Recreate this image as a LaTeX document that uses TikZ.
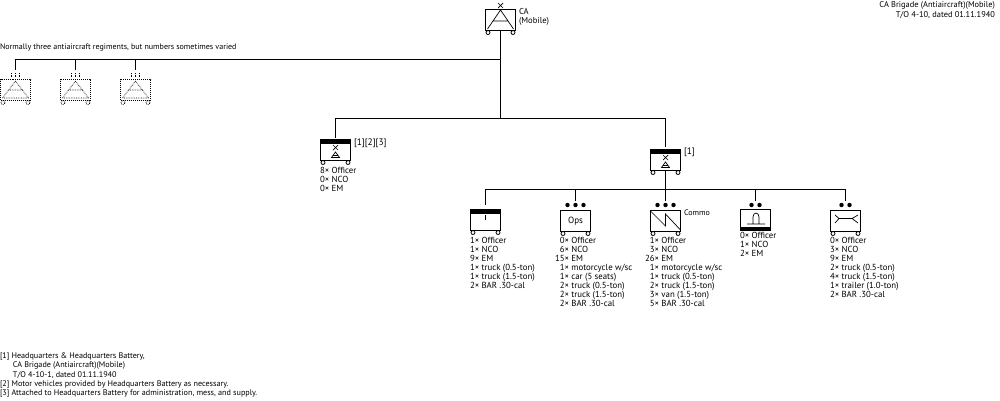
\documentclass[tikz,border=0pt]{standalone}
\usepackage{fontspec}
\setmainfont{PT Sans}
\usetikzlibrary{positioning}

\tikzset{
  unit/.style={draw, line width=1pt, minimum width=30pt, minimum height=21pt, inner sep=0pt, outer sep=0pt},
  ghost/.style={unit, densely dotted},
  txt/.style={inner sep=0pt, outer sep=0pt, anchor=north west, align=left, font=\fontsize{8}{9.1}\selectfont},
  listtxt/.style={txt, font=\fontsize{8.8}{9.1}\selectfont},
  conn/.style={line width=1pt},
  sym/.style={line width=0.7pt}
}
% wheels under a box
\newcommand{\wheels}[2][]{%
  \draw[line width=0.8pt,#1] ([xshift=2.5pt,yshift=-2pt]#2.south west) circle (2pt);
  \draw[line width=0.8pt,#1] ([xshift=-2.5pt,yshift=-2pt]#2.south east) circle (2pt);}
% small brigade mark with antiaircraft sign
\newcommand{\smallaa}[2]{%
  \draw[sym] (#1-2.5,#2-7) -- (#1+2.5,#2-2) (#1+2.5,#2-7) -- (#1-2.5,#2-2);
  \draw[sym] (#1-4,#2+5.5) -- (#1,#2) -- (#1+4,#2+5.5) -- cycle (#1-2.5,#2+3.5) -- (#1+2.5,#2+3.5);}
\newcommand{\dotmark}[2]{%
  \fill (#1,#2) circle (2.2pt);}

\begin{document}
\begin{tikzpicture}[x=1pt,y=-1pt]
\useasboundingbox (0,0) rectangle (1000,400);
% nodes
\node[unit] (ca) at (500.5,20) {};
\node[unit] (bdehq) at (335.5,150) {};
\node[unit] (bty) at (665.5,160) {};
\node[unit] (hqsec) at (485.5,220) {};
\node[unit] (ops) at (575.5,221) {\fontsize{9}{9}\selectfont Ops};
\node[unit] (commo) at (665.5,221) {};
\node[unit] (sptl) at (755.5,220) {};
\node[unit] (maint) at (845.5,221) {};

\coordinate (bus1) at (500.5,59.5);
\coordinate (bus2) at (500.5,118.5);
\coordinate (bus3) at (665.5,189.5);
\coordinate (bdehqm) at (335.5,138);
\coordinate (btym) at (665.5,147);
\coordinate (hqsecm) at (485.5,205);
\coordinate (opsm) at (575.5,201);
\coordinate (commom) at (665.5,201);
\coordinate (sptlm) at (755.5,201);
\coordinate (maintm) at (845.5,201);

% regiments
\foreach \i/\x in {1/15.5,2/75.5,3/135.5} {
  \node[ghost] (rgt\i) at (\x,90) {};
  \wheels[densely dotted]{rgt\i}
  \coordinate (rgt\i m) at (\x,69.5);
  \draw[conn] (bus1) -| (rgt\i m);
  \draw[sym, densely dotted] (\x-4,73) -- (\x-4,78) (\x,73) -- (\x,78) (\x+4,73) -- (\x+4,78);
  \draw[sym, densely dotted] (\x,81) -- (\x-13,98) (\x,81) -- (\x+13,98) (\x-13,98) -- (\x+13,98) (\x-7,90) -- (\x+7,90);
}

% brigade
\wheels{ca}
\draw[sym] (498,3) -- (503,8) (503,3) -- (498,8);
\draw[sym] (500.5,10) -- (487.5,29) (500.5,10) -- (513.5,29) (493.5,21) -- (507.5,21);
\draw[conn] (ca.south) -- (bus2);
\draw[conn] (bus2) -| (bdehqm);
\draw[conn] (bus2) -| (btym);

% headquarters boxes
\foreach \n in {bdehq,bty,hqsec} {
  \fill (\n.north west) rectangle ++(30,4);
}
\foreach \n in {bdehq,bty,hqsec,ops,commo,maint} {
  \wheels{\n}
}
\smallaa{335.5}{152}
\smallaa{665.5}{162}
\draw[conn] (bty.south) -- (commom);
\draw[conn] (bus3) -| (hqsecm);
\draw[conn] (bus3) -| (opsm);
\draw[conn] (bus3) -| (sptlm);
\draw[conn] (bus3) -| (maintm);

% signs in the boxes
\draw[sym] (485.5,215) -- (485.5,220);
\draw[sym] (650.5,211) -- (665.5,226) -- (665.5,214) -- (680.5,230);
\fill (sptl.south west) rectangle ++(30,-4);
\draw[sym] (747,224) -- (765,224) (753,224) -- (753,217) arc[start angle=180,end angle=0,x radius=3pt,y radius=4pt] -- (759,224);
\draw[sym] (835,215) -- (839,218.5) -- (835,223) (839,218.5) -- (852,218.5) (858,215) -- (852,218.5) -- (858,223);
\foreach \x in {567.5,575.5,583.5,657.5,665.5,673.5,751.5,759.5,841.5,849.5} {
  \dotmark{\x}{205}
}

% texts
\node[txt, font=\fontsize{8.6}{9.6}\selectfont] (catxt) at (519,8) {CA\\(Mobile)};
\node[txt, font=\fontsize{9.4}{9.4}\selectfont] (bdetxt) at (354,139) {[1][2][3]};
\node[txt, font=\fontsize{9.4}{9.4}\selectfont] (btytxt) at (684,148) {[1]};
\node[txt] (commotxt) at (684,210) {Commo};
\node[txt] (normal) at (0,44) {Normally three antiaircraft regiments, but numbers sometimes varied};
\node[txt, anchor=north east, align=right, font=\fontsize{8.4}{9.1}\selectfont] (title) at (995,2) {CA Brigade (Antiaircraft)(Mobile)\\T/O 4-10, dated 01.11.1940\hspace{2pt}};
\node[listtxt] (bdelist) at (320,167) {8× Officer\\0× NCO\\0× EM};
\node[listtxt] (hqlist) at (470,237) {1× Officer\\1× NCO\\9× EM\\1× truck (0.5-ton)\\1× truck (1.5-ton)\\2× BAR .30-cal};
\node[listtxt] (opslist) at (555,237) {\hphantom{1}0× Officer\\\hphantom{1}6× NCO\\15× EM\\\hphantom{1}1× motorcycle w/sc\\\hphantom{1}1× car (5 seats)\\\hphantom{1}2× truck (0.5-ton)\\\hphantom{1}2× truck (1.5-ton)\\\hphantom{1}2× BAR .30-cal};
\node[listtxt] (commolist) at (645,237) {\hphantom{1}1× Officer\\\hphantom{1}3× NCO\\26× EM\\\hphantom{1}1× motorcycle w/sc\\\hphantom{1}1× truck (0.5-ton)\\\hphantom{1}2× truck (1.5-ton)\\\hphantom{1}3× van (1.5-ton)\\\hphantom{1}5× BAR .30-cal};
\node[listtxt] (sptllist) at (740,232) {0× Officer\\1× NCO\\2× EM};
\node[listtxt] (maintlist) at (830,237) {0× Officer\\3× NCO\\9× EM\\2× truck (0.5-ton)\\4× truck (1.5-ton)\\1× trailer (1.0-ton)\\2× BAR .30-cal};
\node[txt, font=\fontsize{8.15}{9.4}\selectfont] (notes) at (0,352.5) {[1] Headquarters \& Headquarters Battery,\\\hspace{13pt}CA Brigade (Antiaircraft)(Mobile)\\\hspace{13pt}T/O 4-10-1, dated 01.11.1940\\{}[2] Motor vehicles provided by Headquarters Battery as necessary.\\{}[3] Attached to Headquarters Battery for administration, mess, and supply.};
\end{tikzpicture}
\end{document}
